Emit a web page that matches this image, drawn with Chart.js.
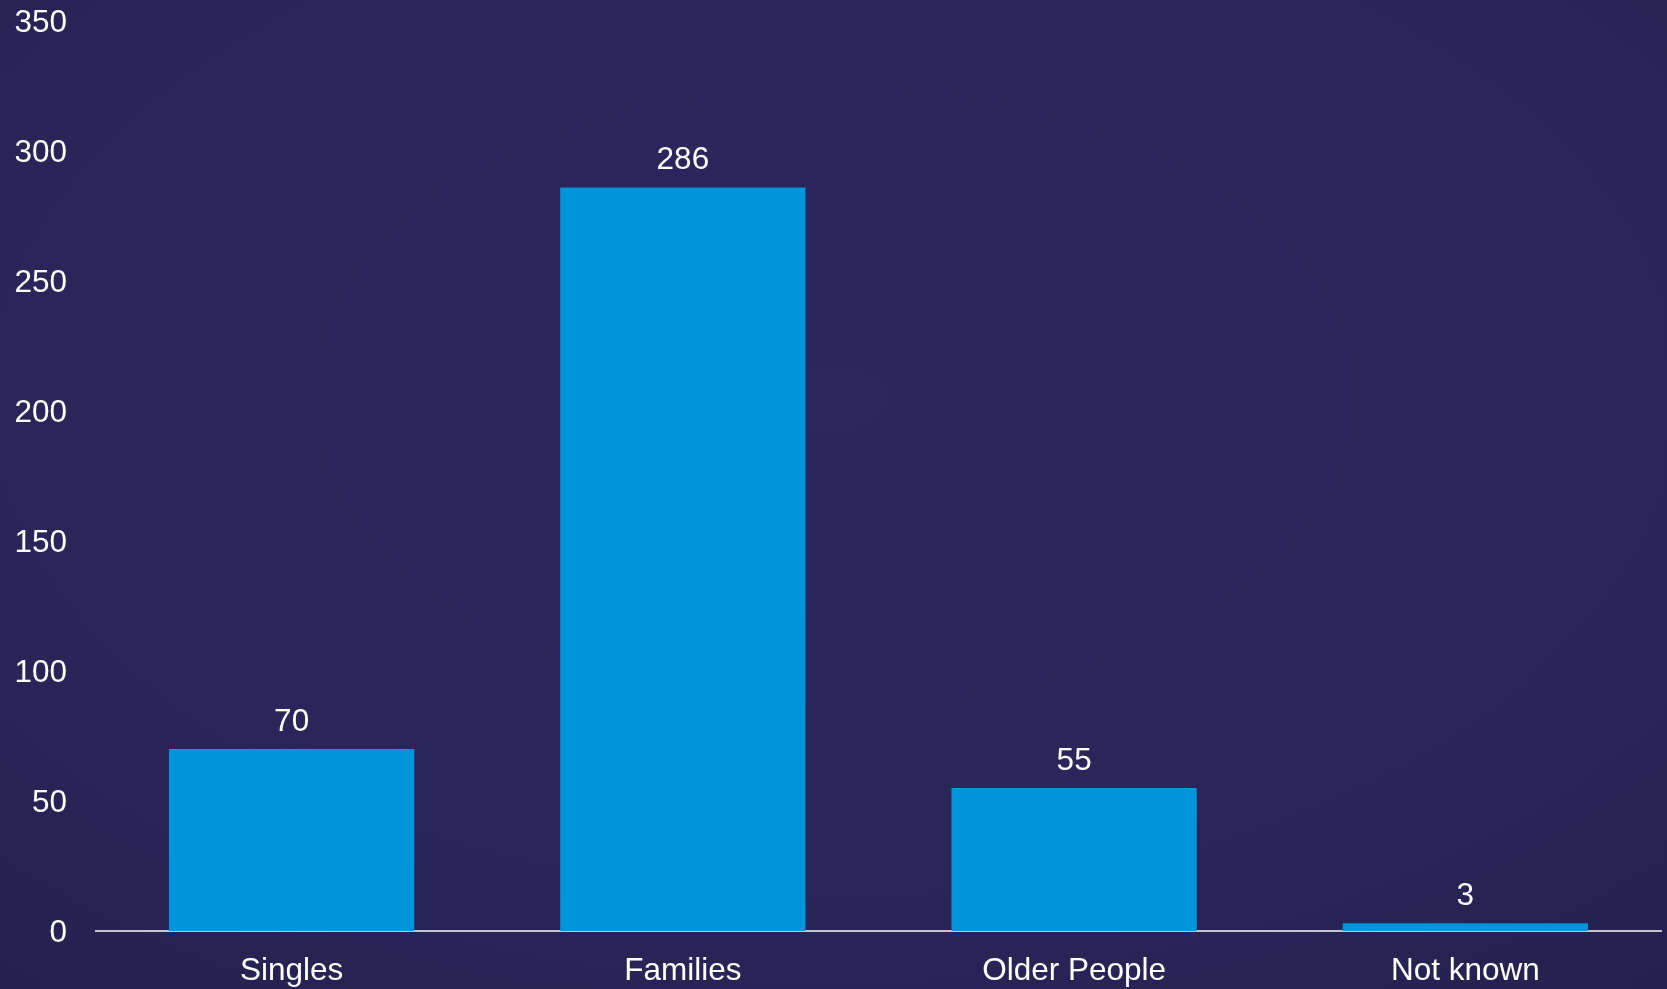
<!DOCTYPE html>
<html>
<head>
<meta charset="utf-8">
<script src="https://cdn.jsdelivr.net/npm/chart.js@4"></script>
<style>
html,body{margin:0;padding:0;width:1667px;height:989px;overflow:hidden;}
body{background:radial-gradient(ellipse 85% 85% at 50% 40%, #2b275e 0%, #2a2659 55%, #241f4c 100%);}
canvas{display:block;}
</style>
</head>
<body>
<canvas id="c" width="1667" height="989"></canvas>
<script>
const categories = ["Singles", "Families", "Older People", "Not known"];
const values = [70, 286, 55, 3];
const yTicks = [0, 50, 100, 150, 200, 250, 300, 350];

const FONT = "'Liberation Sans', Arial, sans-serif";

const valueLabels = {
  id: 'valueLabels',
  afterDatasetsDraw(chart) {
    const ctx = chart.ctx;
    const meta = chart.getDatasetMeta(0);
    ctx.save();
    ctx.fillStyle = '#ffffff';
    ctx.font = '31.5px ' + FONT;
    ctx.textAlign = 'center';
    ctx.textBaseline = 'middle';
    meta.data.forEach((bar, i) => {
      ctx.fillText(String(values[i]), bar.x, bar.y - 27);
    });
    ctx.restore();
  }
};

new Chart(document.getElementById('c'), {
  type: 'bar',
  data: {
    labels: categories,
    datasets: [{
      data: values,
      backgroundColor: '#0095da',
      borderWidth: 0,
      barPercentage: 0.627,
      categoryPercentage: 1.0
    }]
  },
  options: {
    responsive: false,
    animation: false,
    layout: { padding: { top: 21, right: 6, left: 0, bottom: 0 } },
    plugins: { legend: { display: false }, tooltip: { enabled: false } },
    scales: {
      x: {
        grid: { display: false, drawTicks: false },
        border: { display: true, color: '#c4c4cc', width: 2 },
        ticks: { color: '#ffffff', font: { family: FONT, size: 31.5 }, padding: 21, maxRotation: 0 },
        afterFit(scale) { scale.height = 58; scale.paddingLeft = 0; scale.paddingRight = 0; }
      },
      y: {
        min: 0, max: 350,
        afterBuildTicks(scale) { scale.ticks = yTicks.map(v => ({ value: v })); },
        grid: { display: false, drawTicks: false },
        border: { display: false },
        ticks: { color: '#ffffff', font: { family: FONT, size: 31.5 }, padding: 29, labelOffset: 2 },
        afterFit(scale) { scale.width = 96; scale.paddingTop = 0; scale.paddingBottom = 0; }
      }
    }
  },
  plugins: [valueLabels]
});
</script>
</body>
</html>
